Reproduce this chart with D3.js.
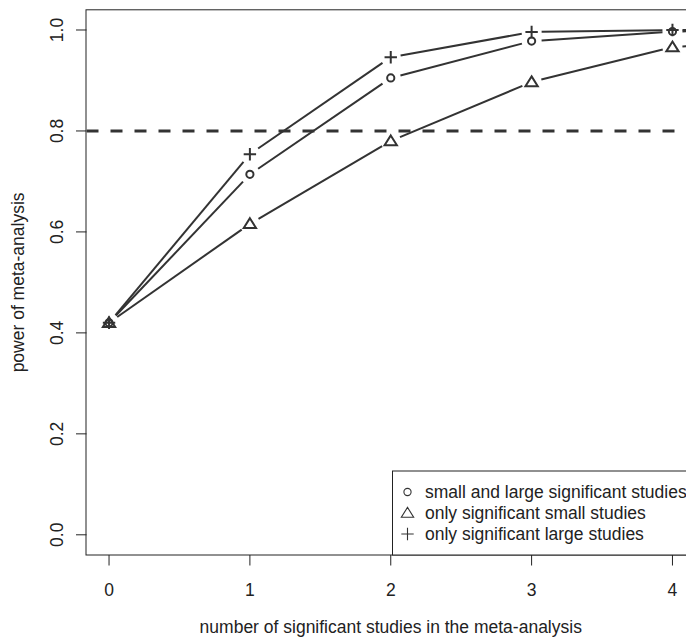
<!DOCTYPE html>
<html>
<head>
<meta charset="utf-8">
<script src="https://cdn.jsdelivr.net/npm/d3@7"></script>
<style>
  body { margin: 0; background: #fff; }
  text { font-family: "Liberation Sans", Arial, sans-serif; fill: #222; }
</style>
</head>
<body>
<div id="target"></div>
<script>
// number of significant studies (x) and power for each scenario
const studies = [0, 1, 2, 3, 4, 5];
const bothSig = [0.42, 0.714, 0.905, 0.978, 0.997, 1.0];
const smallSig = [0.42, 0.616, 0.78, 0.897, 0.966, 0.985];
const largeSig = [0.42, 0.754, 0.946, 0.996, 1.0, 1.0];
const xTicks = [0, 1, 2, 3, 4];
const yTicks = [0, 0.2, 0.4, 0.6, 0.8, 1.0];
const threshold = 0.8;
const legendLabels = [
  "small and large significant studies",
  "only significant small studies",
  "only significant large studies"
];

const width = 686,
  height = 639,
  margin = { top: 9.8, right: -9, bottom: 84, left: 86.5 },
  fontSize = 17.5,
  ink = "#333";

const svg = d3.select("#target")
  .append("svg")
  .attr("width", width)
  .attr("height", height);

// R style: 4% expansion on both axes
const x = d3.scaleLinear()
  .domain([-0.16, 4.16])
  .range([margin.left, width - margin.right]);

const y = d3.scaleLinear()
  .domain([-0.04, 1.04])
  .range([height - margin.bottom, margin.top]);

const x0 = x.range()[0], x1 = x.range()[1];
const yBot = y.range()[0], yTop = y.range()[1];

svg.append("defs").append("clipPath")
  .attr("id", "plot")
  .append("rect")
  .attr("x", x0).attr("y", yTop)
  .attr("width", x1 - x0).attr("height", yBot - yTop);

// box
svg.append("rect")
  .attr("x", x0 - 0.5)
  .attr("y", yTop)
  .attr("width", x1 - x0)
  .attr("height", yBot - yTop)
  .attr("fill", "none")
  .attr("stroke", "#222");

// x axis
const xAxis = svg.append("g");
xAxis.selectAll("line")
  .data(xTicks)
  .enter()
  .append("line")
  .attr("x1", (d) => x(d)).attr("x2", (d) => x(d))
  .attr("y1", yBot).attr("y2", yBot + 10.5)
  .attr("stroke", "#222");
xAxis.selectAll("text")
  .data(xTicks)
  .enter()
  .append("text")
  .attr("x", (d) => x(d))
  .attr("y", yBot + 41)
  .attr("text-anchor", "middle")
  .style("font-size", fontSize + "px")
  .text((d) => d);

svg.append("text")
  .attr("x", x(2))
  .attr("y", yBot + 78)
  .attr("text-anchor", "middle")
  .style("font-size", fontSize + "px")
  .text("number of significant studies in the meta-analysis");

// y axis
const yAxis = svg.append("g");
yAxis.selectAll("line")
  .data(yTicks)
  .enter()
  .append("line")
  .attr("x1", x0 - 10.5).attr("x2", x0)
  .attr("y1", (d) => y(d)).attr("y2", (d) => y(d))
  .attr("stroke", "#222");
yAxis.selectAll("text")
  .data(yTicks)
  .enter()
  .append("text")
  .attr("transform", (d) => `translate(${x0 - 24},${y(d)}) rotate(-90)`)
  .attr("text-anchor", "middle")
  .style("font-size", fontSize + "px")
  .text((d) => d3.format(".1f")(d));

svg.append("text")
  .attr("transform", `translate(${x0 - 63},${(yTop + yBot) / 2}) rotate(-90)`)
  .attr("text-anchor", "middle")
  .style("font-size", fontSize + "px")
  .text("power of meta-analysis");

const plot = svg.append("g").attr("clip-path", "url(#plot)");

// threshold line
plot.append("line")
  .attr("x1", x0).attr("x2", x1)
  .attr("y1", y(threshold)).attr("y2", y(threshold))
  .attr("stroke", ink)
  .attr("stroke-width", 3)
  .attr("stroke-dasharray", "12,12");

// type = "b": segments with gaps around the points
const gap = 10;
function drawSeries(values) {
  const pts = studies.map((s, i) => [x(s), y(values[i])]);
  const segs = d3.pairs(pts).map(([a, b]) => {
    const dx = b[0] - a[0], dy = b[1] - a[1];
    const len = Math.hypot(dx, dy);
    const ux = dx / len, uy = dy / len;
    return [a[0] + ux * gap, a[1] + uy * gap, b[0] - ux * gap, b[1] - uy * gap];
  });
  plot.append("g")
    .selectAll("line")
    .data(segs)
    .enter()
    .append("line")
    .attr("x1", (d) => d[0]).attr("y1", (d) => d[1])
    .attr("x2", (d) => d[2]).attr("y2", (d) => d[3])
    .attr("stroke", ink)
    .attr("stroke-width", 2);
  return pts;
}

function marker(g, shape, cx, cy, w) {
  if (shape === "circle") {
    g.append("circle")
      .attr("cx", cx).attr("cy", cy).attr("r", 3.6)
      .attr("fill", "none").attr("stroke", ink).attr("stroke-width", w);
  } else if (shape === "triangle") {
    const s = 5.6;
    g.append("path")
      .attr("d", `M${cx},${cy - s}L${cx + s * 1.1},${cy + s * 0.75}L${cx - s * 1.1},${cy + s * 0.75}Z`)
      .attr("fill", "none").attr("stroke", ink).attr("stroke-width", w)
      .attr("stroke-linejoin", "miter");
  } else {
    const s = 6.2;
    g.append("path")
      .attr("d", `M${cx - s},${cy}H${cx + s}M${cx},${cy - s}V${cy + s}`)
      .attr("fill", "none").attr("stroke", ink).attr("stroke-width", w);
  }
}

const seriesList = [
  { values: bothSig, shape: "circle" },
  { values: smallSig, shape: "triangle" },
  { values: largeSig, shape: "plus" }
];

seriesList.forEach((s) => {
  const pts = drawSeries(s.values);
  const g = plot.append("g");
  pts.forEach((p) => marker(g, s.shape, p[0], p[1], 2));
});

// legend (bottom right, inside the box)
const legendTop = 471, rowH = 21;
const legend = svg.append("g");
legend.append("rect")
  .attr("x", 392.5)
  .attr("y", legendTop)
  .attr("width", x1 - 392.5)
  .attr("height", yBot - legendTop)
  .attr("fill", "#fff")
  .attr("stroke", "#222");
legendLabels.forEach((lab, i) => {
  const cy = legendTop + 21 + i * rowH;
  marker(legend, seriesList[i].shape, 407.5, cy, 1.1);
  legend.append("text")
    .attr("x", 425)
    .attr("y", cy + 6.2)
    .style("font-size", fontSize + "px")
    .text(lab);
});
</script>
</body>
</html>
